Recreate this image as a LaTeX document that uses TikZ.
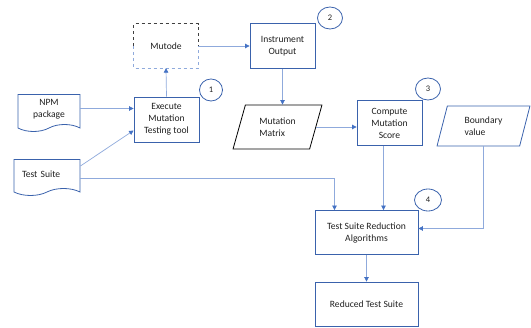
\documentclass[tikz,border=0pt]{standalone}
\usepackage{fontspec}
\setmainfont{Carlito}
\usepackage{tikz}
\usetikzlibrary{arrows.meta,positioning,calc,shapes.geometric,shapes.symbols}
\definecolor{ink}{HTML}{202020}
\definecolor{boxblue}{HTML}{3A62AC}
\definecolor{tipblue}{HTML}{4472C4}
\definecolor{lineblue}{HTML}{8FAADC}
\definecolor{dashgray}{HTML}{404040}
\tikzset{
  >={Triangle[length=4.5pt,width=4.5pt,color=tipblue]},
  stepbox/.style={draw=boxblue,line width=.8pt,minimum width=65pt,minimum height=45pt,align=center,text=ink},
  docbox/.style={tape,tape bend top=none,tape bend height=7pt,draw=boxblue,line width=.8pt,text=ink},
  databox/.style={trapezium,trapezium stretches=true,line width=.8pt,align=left,text=ink},
  badge/.style={ellipse,draw=boxblue,line width=.8pt,minimum width=25pt,minimum height=22pt,inner sep=0pt,font=\fontsize{8.5}{10}\selectfont,text=ink},
  flow/.style={->,line width=.7pt,color=lineblue},
}

\begin{document}
\begin{tikzpicture}[x=1pt,y=-1pt,font=\fontsize{9.6}{12}\selectfont]
  \useasboundingbox (0,0) rectangle (531,328);
  \node[minimum width=64pt,minimum height=44pt,text=ink] (mut) at (166,46) {Mutode};
  \draw[dashed,line width=.8pt,dashgray] (mut.west) |- (mut.north) -| (mut.east);
  \draw[dashed,line width=.8pt,lineblue] (mut.west) |- (mut.south) -| (mut.east);
  \node[stepbox] (io) at (282.5,46) {Instrument\\Output};
  \node[badge] (b2) at (330,18) {2};
  \node[stepbox] (exe) at (166.5,119.5) {Execute\\Mutation\\Testing tool};
  \node[badge,minimum width=23pt] (b1) at (211,90) {1};
  \node[docbox,minimum width=62pt,minimum height=37pt,align=center] (npm) at (49,109.5) {NPM\\package};
  \node[docbox,minimum height=36pt,text width=50pt,inner xsep=8pt,align=left] (ts) at (47,174) {Test Suite};
  \node[databox,draw=black,trapezium left angle=72,trapezium right angle=108,minimum width=89pt,minimum height=44pt] (mm) at (277.5,127) {Mutation\\Matrix};
  \node[stepbox] (cms) at (389.5,123) {Compute\\Mutation\\Score};
  \node[badge] (b3) at (428,89) {3};
  \node[databox,draw=boxblue,trapezium left angle=76,trapezium right angle=104,minimum width=93pt,minimum height=40pt] (bv) at (483.5,126) {Boundary\\value};
  \node[stepbox,minimum width=103pt,minimum height=44pt] (tsr) at (366.5,232.5) {Test Suite Reduction\\Algorithms};
  \node[badge,minimum width=27pt] (b4) at (428,200) {4};
  \node[stepbox,minimum width=103pt,minimum height=44pt] (red) at (366.5,304) {Reduced Test Suite};
  \draw[flow] (exe.north) -- (mut.south);
  \draw[flow] (mut.east) -- (io.west);
  \draw[flow] (io.south) -- (io.south |- mm.north);
  \draw[flow] (mm.east) -- (mm.east -| cms.west);
  \draw[flow] ([yshift=1pt]npm.east) -- ([yshift=1pt]npm.east -| exe.west);
  \draw[flow] ([yshift=8pt]ts.east) -- ([yshift=-11pt]exe.west);
  \draw[flow] ([yshift=-4pt]ts.east) -| ([xshift=-32pt]tsr.north);
  \draw[flow] ([xshift=-6pt]cms.south) -- ([xshift=-6pt]cms.south |- tsr.north);
  \draw[flow] (bv.south) |- ([yshift=4pt]tsr.east);
  \draw[flow] (tsr.south) -- (red.north);
\end{tikzpicture}
\end{document}
